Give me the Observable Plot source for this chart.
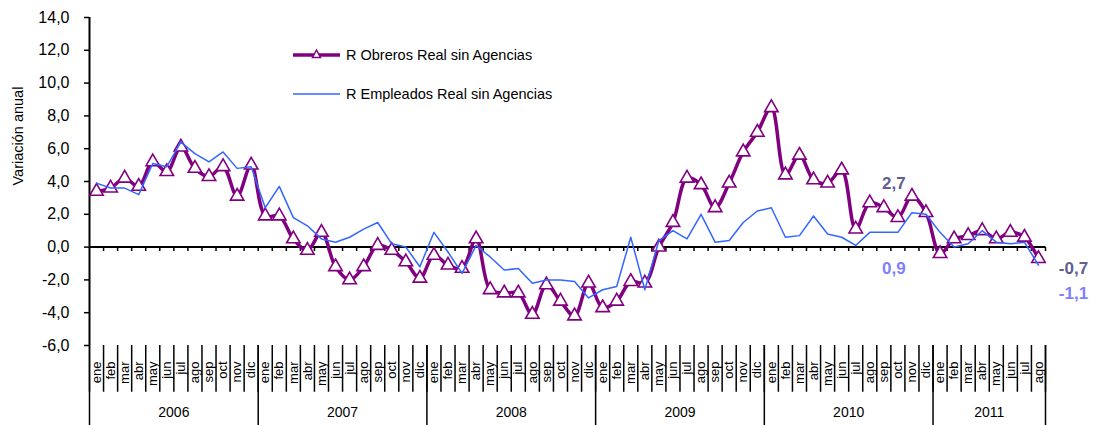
<!DOCTYPE html>
<html><head><meta charset="utf-8">
<script src="https://cdn.jsdelivr.net/npm/d3@7"></script>
<script src="https://cdn.jsdelivr.net/npm/@observablehq/plot@0.6"></script>
<style>
body{margin:0;background:#fff;}
#wrap{position:relative;width:1093px;height:425px;font-family:Arial,"Liberation Sans",sans-serif;}
.leg{position:absolute;left:293px;display:flex;align-items:center;font-size:14.5px;color:#000;white-space:nowrap;}
.leg svg{margin-right:6px;}
</style></head><body><div id="wrap"></div>
<script>
const monthNames = ["ene","feb","mar","abr","may","jun","jul","ago","sep","oct","nov","dic"];
const years = [2006, 2007, 2008, 2009, 2010, 2011];
const seriesNames = ["R Obreros Real sin Agencias", "R Empleados Real sin Agencias"];
const obreros = [
  3.4, 3.6, 4.2, 3.7, 5.2, 4.6, 6.1, 4.8, 4.3, 4.9, 3.1, 5.0,
  1.9, 1.9, 0.5, -0.2, 0.9, -1.2, -2.0, -1.2, 0.1, -0.2, -0.9, -1.9,
  -0.5, -1.1, -1.3, 0.5, -2.6, -2.8, -2.8, -4.1, -2.3, -3.3, -4.2, -2.2,
  -3.7, -3.3, -2.1, -2.2, 0.0, 1.5, 4.2, 3.8, 2.4, 3.9, 5.8, 7.0,
  8.5, 4.4, 5.6, 4.1, 3.9, 4.7, 1.1, 2.7, 2.4, 1.8, 3.1, 2.1,
  -0.4, 0.5, 0.7, 1.0, 0.5, 0.9, 0.6, -0.7
];
const empleados = [
  3.9, 3.6, 3.6, 3.2, 5.1, 4.9, 6.4, 5.7, 5.2, 5.8, 4.8, 4.9,
  2.4, 3.7, 1.8, 1.3, 0.5, 0.3, 0.6, 1.1, 1.5, 0.2, 0.0, -1.2,
  0.9, -0.3, -1.6, 0.1, -0.6, -1.4, -1.3, -2.2, -2.0, -2.0, -2.1, -3.1,
  -2.6, -2.4, 0.6, -2.6, 0.4, 1.0, 0.5, 2.0, 0.3, 0.4, 1.5, 2.2,
  2.4, 0.6, 0.7, 1.9, 0.8, 0.6, 0.1, 0.9, 0.9, 0.9, 2.1, 2.0,
  0.9, 0.0, 0.2, 1.0, 0.3, 0.2, 0.3, -1.1
];
const yTicks = [-6, -4, -2, 0, 2, 4, 6, 8, 10, 12, 14];
const labeledMonths = [55, 67]; // ago 2010, ago 2011

const colObreros = "#800080", colEmpleados = "#3366ff";
const fmt = v => v.toFixed(1).replace(".", ",");

const months = obreros.map((v, i) => ({i, mes: monthNames[i % 12], obreros: v, empleados: empleados[i]}));
const n = months.length;
const bounds = d3.range(n + 1).map(k => k - 0.5);
const yearBounds = [...years.map((y, k) => k * 12 - 0.5), n - 0.5];
const yearCenters = years.map((y, k) => ({year: String(y), x: (k * 12 + Math.min(k * 12 + 11, n - 1)) / 2}));
const FONT = "Arial, 'Liberation Sans', sans-serif";

const chart = Plot.plot({
  width: 1093, height: 425,
  marginLeft: 89, marginRight: 48, marginTop: 17, marginBottom: 80,
  style: {fontFamily: FONT, background: "white", overflow: "visible", color: "black"},
  x: {type: "linear", domain: [-0.5, n - 0.5], axis: null},
  y: {domain: [-6, 14], axis: null},
  marks: [
    Plot.axisY({ticks: yTicks, tickFormat: fmt, tickSize: 5, tickPadding: 15, fontSize: 16, label: null, strokeWidth: 1.5}),
    Plot.text(["Variación anual"], {frameAnchor: "left", rotate: -90, dx: -71, dy: 4, fontSize: 14.5}),
    Plot.ruleX([-0.5], {y1: -6, y2: 14, stroke: "black", strokeWidth: 2}),
    Plot.ruleY([0], {stroke: "black", strokeWidth: 2}),
    Plot.ruleX(bounds.slice(1), {x: d => d, y1: 0, y2: -0.27, stroke: "black", strokeWidth: 1.5}),
    Plot.ruleX(bounds, {x: d => d, y1: -6, y2: -8.85, stroke: "black", strokeWidth: 1.5}),
    Plot.ruleX(yearBounds, {x: d => d, y1: -6, y2: -10.9, stroke: "black", strokeWidth: 1.5}),
    Plot.text(months, {x: "i", y: -6, text: "mes", rotate: -90, textAnchor: "end", dy: 16, fontSize: 13}),
    Plot.text(yearCenters, {x: "x", y: -6, text: "year", dy: 67, fontSize: 14}),
    Plot.line(months, {x: "i", y: "obreros", stroke: colObreros, strokeWidth: 3.5, curve: "catmull-rom"}),
    Plot.dot(months, {x: "i", y: "obreros", symbol: "triangle", r: 5, stroke: colObreros, fill: "white", strokeWidth: 1.6}),
    Plot.line(months, {x: "i", y: "empleados", stroke: colEmpleados, strokeWidth: 1.5}),
    Plot.text([labeledMonths[0]], {x: d => d, y: d => obreros[d], text: d => fmt(obreros[d]), dx: 24, dy: -19, fill: "#606090", fontWeight: "bold", fontSize: 17}),
    Plot.text([labeledMonths[0]], {x: d => d, y: d => empleados[d], text: d => fmt(empleados[d]), dx: 24, dy: 36, fill: "#8080ff", fontWeight: "bold", fontSize: 17}),
    Plot.text([labeledMonths[1]], {x: d => d, y: d => obreros[d], text: d => fmt(obreros[d]), dx: 35, dy: 10, fill: "#606090", fontWeight: "bold", fontSize: 17}),
    Plot.text([labeledMonths[1]], {x: d => d, y: d => empleados[d], text: d => fmt(empleados[d]), dx: 35, dy: 28, fill: "#8080ff", fontWeight: "bold", fontSize: 17})
  ]
});
const wrap = document.getElementById("wrap");
wrap.appendChild(chart);

function legendItem(top, name, color, width, marker) {
  const d = document.createElement("div");
  d.className = "leg";
  d.style.top = (top - 10) + "px";
  d.style.height = "20px";
  d.innerHTML = `<svg width="47" height="20"><line x1="0" x2="47" y1="10" y2="10" stroke="${color}" stroke-width="${width}"/>` +
    (marker ? `<path d="M23.5,5 L27.5,12.5 L19.5,12.5 Z" fill="white" stroke="${color}" stroke-width="1.5"/>` : "") +
    `</svg><span>${name}</span>`;
  wrap.appendChild(d);
}
legendItem(55, seriesNames[0], colObreros, 3.5, true);
legendItem(94, seriesNames[1], colEmpleados, 1.5, false);
</script></body></html>
